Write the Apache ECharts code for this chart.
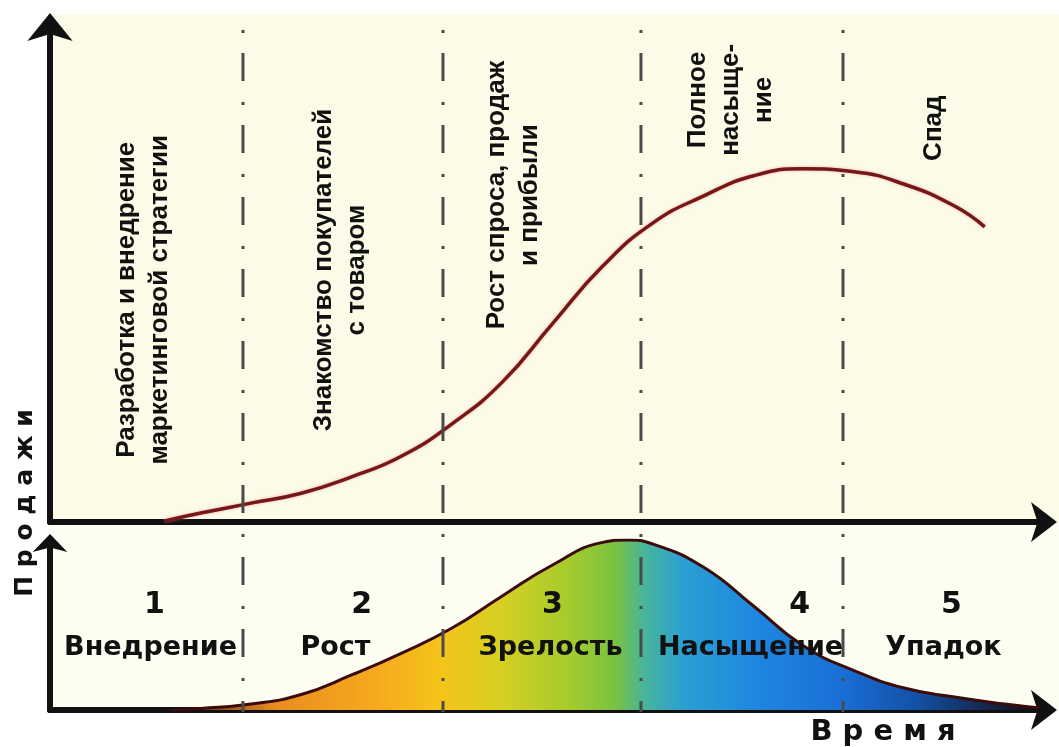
<!DOCTYPE html>
<html>
<head>
<meta charset="utf-8">
<script src="https://cdn.jsdelivr.net/npm/echarts@6/dist/echarts.min.js"></script>
<style>
  html, body { margin: 0; padding: 0; background: #fff; }
  #chart { width: 1059px; height: 747px; }
</style>
</head>
<body>
<div id="chart"></div>
<script>
// время (условные единицы), границы этапов
const timeMax = 9.9
const stageBounds = [1.92, 3.91, 5.88, 7.89]

// верхняя кривая — продажи
const salesX = [1.14, 1.5, 2.0, 2.5, 3.0, 3.5, 4.0, 4.5, 5.0, 5.5, 6.0, 6.5, 7.0, 7.5, 8.0, 8.5, 9.0, 9.3]
const salesY = [0.2, 1.8, 3.8, 5.8, 9.1, 13.3, 19.8, 28.2, 40.0, 51.6, 60.3, 65.7, 69.8, 71.2, 70.6, 68.1, 63.7, 59.5]

// нижняя кривая — жизненный цикл
const cycleX = [1.2, 1.5, 2.0, 2.5, 3.0, 3.5, 4.0, 4.5, 5.0, 5.5, 5.75, 6.0, 6.5, 7.0, 7.5, 8.0, 8.5, 9.0, 9.5, 9.85]
const cycleY = [0, 0.9, 3.5, 9.1, 20.6, 33.5, 48.2, 67.1, 85.3, 98.6, 100, 97.6, 84.1, 61.2, 37.6, 23.2, 12.9, 7.6, 3.5, 1.2]

// подписи этапов в верхней части
const topLabels = [
  'Разработка и внедрение\nмаркетинговой стратегии',
  'Знакомство покупателей\nс товаром',
  'Рост спроса, продаж\nи прибыли',
  'Полное\nнасыще-\nние',
  'Спад'
]
const topLabelX = [0.93, 2.89, 4.61, 6.77, 8.79]
const topLabelY = [44.8, 50.8, 65.9, 85.1, 79.4]

// подписи этапов в нижней части
const stageNums = ['1', '2', '3', '4', '5']
const stageNumX = [1.04, 3.1, 5.0, 7.46, 8.97]
const stageNames = ['Внедрение', 'Рост', 'Зрелость', 'Насыщение', 'Упадок']
const stageNameX = [1.0, 2.84, 4.98, 6.97, 8.89]
const numY = 61.8
const nameY = 36.5

const zip = (xs, ys) => xs.map((x, i) => [x, ys[i]])

const axisLine = (size, offset) => ({
  show: true,
  onZero: false,
  symbol: ['none', 'arrow'],
  symbolSize: size,
  symbolOffset: [0, offset],
  lineStyle: { color: '#111', width: 6 },
})
const bare = { axisTick: { show: false }, axisLabel: { show: false }, splitLine: { show: false } }

const fill = new echarts.graphic.LinearGradient(0, 0, 1, 0, [
  { offset: 0, color: '#4a1410' },
  { offset: 0.12, color: '#ea8c1e' },
  { offset: 0.24, color: '#f7aa1e' },
  { offset: 0.31, color: '#f5c41a' },
  { offset: 0.38, color: '#d6d022' },
  { offset: 0.46, color: '#a4cb2e' },
  { offset: 0.51, color: '#7cc23e' },
  { offset: 0.545, color: '#48b59a' },
  { offset: 0.59, color: '#2aa0d2' },
  { offset: 0.67, color: '#1e88e0' },
  { offset: 0.77, color: '#1a6fd6' },
  { offset: 0.86, color: '#1350a6' },
  { offset: 0.94, color: '#16254a' },
  { offset: 1, color: '#120808' },
])

const labelSeries = (xi, names, xs, y, label) => ({
  type: 'scatter',
  xAxisIndex: xi,
  yAxisIndex: xi,
  symbolSize: 1,
  itemStyle: { color: 'rgba(0,0,0,0)', opacity: 1 },
  silent: true,
  z: 10,
  data: names.map((n, i) => ({ name: n, value: [xs[i], Array.isArray(y) ? y[i] : y] })),
  label: Object.assign({
    show: true,
    position: 'inside',
    formatter: (p) => p.name,
    color: '#111',
    fontWeight: 'bold',
    align: 'center',
    verticalAlign: 'middle',
  }, label),
})

const option = {
  backgroundColor: '#fff',
  animation: false,
  graphic: [
    { type: 'rect', z: -10, shape: { x: 50, y: 14, width: 1009, height: 508 }, style: { fill: '#fbfbe8' } },
    { type: 'rect', z: -10, shape: { x: 50, y: 522, width: 1009, height: 188 }, style: { fill: '#fdfdf2' } },
    {
      type: 'text', x: 25, y: 503, rotation: Math.PI / 2,
      style: { text: 'П р о д а ж и', fill: '#111', font: 'bold 25px "DejaVu Sans"', align: 'center', verticalAlign: 'middle' },
    },
    {
      type: 'text', x: 883, y: 732,
      style: { text: 'В р е м я', fill: '#111', font: 'bold 29px "DejaVu Sans"', align: 'center', verticalAlign: 'middle' },
    },
  ],
  grid: [
    { left: 50, right: 14, top: 26, height: 496 },
    { left: 50, right: 14, top: 540, height: 170 },
    { left: 50, right: 14, top: 30, height: 682 },
  ],
  xAxis: [
    Object.assign({ type: 'value', gridIndex: 0, min: 0, max: timeMax, axisLine: axisLine([30, 26], 12) }, bare),
    Object.assign({ type: 'value', gridIndex: 1, min: 0, max: timeMax, axisLine: axisLine([30, 26], 12) }, bare),
    { type: 'value', gridIndex: 2, min: 0, max: timeMax, show: false },
  ],
  yAxis: [
    Object.assign({ type: 'value', gridIndex: 0, min: 0, max: 100, axisLine: axisLine([34, 28], 13) }, bare),
    Object.assign({ type: 'value', gridIndex: 1, min: 0, max: 100, axisLine: axisLine([26, 18], 6) }, bare),
    { type: 'value', gridIndex: 2, min: 0, max: 1, show: false },
  ],
  series: [
    {
      type: 'line',
      xAxisIndex: 1,
      yAxisIndex: 1,
      smooth: 0.5,
      showSymbol: false,
      silent: true,
      z: 2,
      data: zip(cycleX, cycleY),
      lineStyle: { color: '#3a0c0c', width: 3 },
      areaStyle: { color: fill, opacity: 1 },
    },
    {
      type: 'line',
      xAxisIndex: 0,
      yAxisIndex: 0,
      smooth: 0.5,
      showSymbol: false,
      silent: true,
      z: 3,
      data: zip(salesX, salesY),
      lineStyle: { color: '#761818', width: 3.5, shadowColor: 'rgba(230,120,120,0.6)', shadowBlur: 3 },
    },
    ...stageBounds.map((b) => ({
      type: 'line',
      xAxisIndex: 2,
      yAxisIndex: 2,
      showSymbol: false,
      silent: true,
      z: 4,
      data: [[b, 1], [b, 0]],
      lineStyle: { color: '#4a4a4a', width: 3, type: [3, 20, 28, 21] },
    })),
    labelSeries(0, topLabels, topLabelX, topLabelY, {
      rotate: 90, fontFamily: 'Liberation Sans', fontSize: 26, lineHeight: 33,
    }),
    labelSeries(1, stageNums, stageNumX, numY, { fontFamily: 'DejaVu Sans', fontSize: 30 }),
    labelSeries(1, stageNames, stageNameX, nameY, { fontFamily: 'DejaVu Sans', fontSize: 27 }),
  ],
}

const myChart = echarts.init(document.getElementById('chart'))
myChart.setOption(option)
</script>
</body>
</html>
